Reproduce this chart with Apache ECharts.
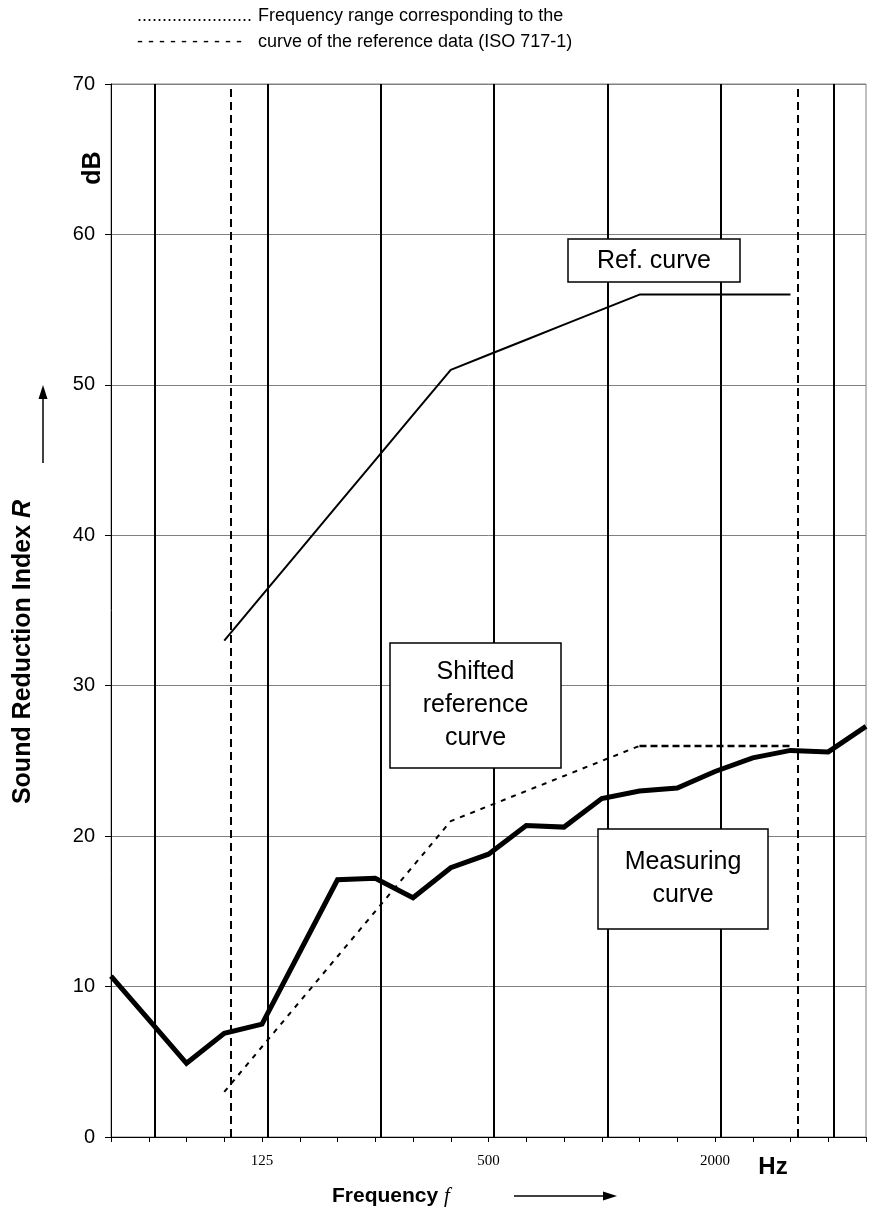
<!DOCTYPE html>
<html>
<head>
<meta charset="utf-8">
<script src="https://cdn.jsdelivr.net/npm/echarts@6/dist/echarts.min.js"></script>
<style>
html,body{margin:0;padding:0;background:#fff;}
#chart{width:871px;height:1227px;}
</style>
</head>
<body>
<div id="chart"></div>
<script>
// Third-octave band centre frequencies (category axis, drawn as index positions)
const categories = ['50','63','80','100','125','160','200','250','315','400','500','630','800','1000','1250','1600','2000','2500','3150','4000','5000'];
const tickLabels = ['125','500','2000'];
// Measuring curve (dB)
const measured = [10.7, 7.8, 4.9, 6.9, 7.5, 12.3, 17.1, 17.2, 15.9, 17.9, 18.8, 20.7, 20.6, 22.5, 23.0, 23.2, 24.3, 25.2, 25.7, 25.6, 27.3];
// Reference curve ISO 717-1 (100 Hz .. 3150 Hz)
const refCurve = [null, null, null, 33, 36, 39, 42, 45, 48, 51, 52, 53, 54, 55, 56, 56, 56, 56, 56, null, null];
// Shifted reference curve: sloped part and flat part
const shiftedSlope = [null, null, null, 3, 6, 9, 12, 15, 18, 21, 22, 23, 24, 25, 26, null, null, null, null, null, null];
const shiftedFlat  = [null, null, null, null, null, null, null, null, null, null, null, null, null, null, 26, 26, 26, 26, 26, null, null];
// Manually drawn vertical lines (octave bands solid, range limits dashed)
const octaveLines = ['63','125','250','500','1000','2000','4000'];
const rangeLines = ['100','3150'];
const yTicks = [0, 10, 20, 30, 40, 50, 60, 70];

const LINE_SHIFT = 0.15;
const RANGE_SHIFT = 0.18;
const toXY = arr => arr.map((v, i) => [i, v]);
const FONT = "'Liberation Sans', Arial, sans-serif";

const chart = echarts.init(document.getElementById('chart'), null, {renderer: 'canvas'});

const vLines = octaveLines.map(f => ({xAxis: categories.indexOf(f) + LINE_SHIFT, lineStyle: {type: 'solid', width: 2, color: '#000'}}))
  .concat(rangeLines.map(f => ({xAxis: categories.indexOf(f) + RANGE_SHIFT, lineStyle: {type: [8, 5], width: 2, color: '#000'}})));

const option = {
  animation: false,
  backgroundColor: '#fff',
  grid: {left: 111, top: 84, width: 755, height: 1053, show: true, borderColor: '#808080', borderWidth: 1, backgroundColor: 'transparent'},
  xAxis: {
    type: 'value', min: 0, max: categories.length - 1, interval: 1,
    axisLine: {show: true, lineStyle: {color: '#000', width: 1}},
    axisTick: {show: true, length: 5, lineStyle: {color: '#000', width: 1}},
    splitLine: {show: false},
    axisLabel: {
      margin: 17, color: '#000', fontFamily: "'Liberation Serif', 'Times New Roman', serif", fontSize: 15,
      formatter: v => tickLabels.includes(categories[v]) ? categories[v] : ''
    }
  },
  yAxis: {
    type: 'value', min: yTicks[0], max: yTicks[yTicks.length - 1], interval: 10,
    axisLine: {show: true, lineStyle: {color: '#000', width: 1}},
    axisTick: {show: true, length: 6, lineStyle: {color: '#000'}},
    splitLine: {show: true, lineStyle: {color: '#808080', width: 1}},
    axisLabel: {margin: 16, color: '#000', fontFamily: FONT, fontSize: 20}
  },
  series: [
    {
      type: 'line', name: 'Ref. curve', data: toXY(refCurve), symbol: 'none', connectNulls: false,
      lineStyle: {color: '#000', width: 2}, silent: true, z: 3,
      markLine: {silent: true, symbol: 'none', label: {show: false}, data: vLines, animation: false}
    },
    {
      type: 'line', name: 'Shifted slope', data: toXY(shiftedSlope), symbol: 'none',
      lineStyle: {color: '#000', width: 2, type: [5, 6]}, silent: true, z: 3
    },
    {
      type: 'line', name: 'Shifted flat', data: toXY(shiftedFlat), symbol: 'none',
      lineStyle: {color: '#000', width: 2.5, type: [7, 4]}, silent: true, z: 3
    },
    {
      type: 'line', name: 'Measuring curve', data: toXY(measured), symbol: 'none',
      lineStyle: {color: '#000', width: 5, join: 'miter'}, silent: true, z: 4
    }
  ],
  graphic: [
    // legend text at top
    {type: 'text', left: 137, top: 7, z: 100, style: {text: '.......................', font: `18px ${FONT}`, fill: '#000'}},
    {type: 'text', left: 258, top: 7, z: 100, style: {text: 'Frequency range corresponding to the', font: `18px ${FONT}`, fill: '#000'}},
    {type: 'text', left: 137, top: 33, z: 100, style: {text: '- - - - - - - - - -', font: `18px ${FONT}`, fill: '#000'}},
    {type: 'text', left: 258, top: 33, z: 100, style: {text: 'curve of the reference data (ISO 717-1)', font: `18px ${FONT}`, fill: '#000'}},
    // y axis labels
    {type: 'text', x: 93, y: 168, rotation: Math.PI / 2, z: 100,
      style: {text: 'dB', font: `bold 25px ${FONT}`, fill: '#000', align: 'center', verticalAlign: 'middle'}},
    {type: 'text', x: 23, y: 652, rotation: Math.PI / 2, z: 100,
      style: {text: '{b|Sound Reduction Index }{i|R}', align: 'center', verticalAlign: 'middle',
        rich: {b: {font: `bold 25px ${FONT}`, fill: '#000'}, i: {font: `italic bold 25px ${FONT}`, fill: '#000'}}}},
    {type: 'line', z: 100, shape: {x1: 43, y1: 463, x2: 43, y2: 398}, style: {stroke: '#000', lineWidth: 1.5}},
    {type: 'polygon', z: 100, shape: {points: [[43, 385], [38.5, 399], [47.5, 399]]}, style: {fill: '#000'}},
    // x axis labels
    {type: 'text', x: 773, y: 1167, z: 100,
      style: {text: 'Hz', font: `bold 24px ${FONT}`, fill: '#000', align: 'center', verticalAlign: 'middle'}},
    {type: 'text', x: 332, y: 1196, z: 100,
      style: {text: '{b|Frequency }{i|f}', align: 'left', verticalAlign: 'middle',
        rich: {b: {font: `bold 21px ${FONT}`, fill: '#000'}, i: {font: `italic 21px 'Liberation Serif', serif`, fill: '#000'}}}},
    {type: 'line', z: 100, shape: {x1: 514, y1: 1196, x2: 604, y2: 1196}, style: {stroke: '#000', lineWidth: 1.5}},
    {type: 'polygon', z: 100, shape: {points: [[617, 1196], [603, 1191.5], [603, 1200.5]]}, style: {fill: '#000'}},
    // annotation boxes
    {type: 'rect', z: 100, shape: {x: 568, y: 239, width: 172, height: 43}, style: {fill: '#fff', stroke: '#000', lineWidth: 1.5}},
    {type: 'text', x: 654, y: 261, z: 101,
      style: {text: 'Ref. curve', font: `25px ${FONT}`, fill: '#000', align: 'center', verticalAlign: 'middle'}},
    {type: 'rect', z: 100, shape: {x: 390, y: 643, width: 171, height: 125}, style: {fill: '#fff', stroke: '#000', lineWidth: 1.5}},
    {type: 'text', x: 475.5, y: 705.5, z: 101,
      style: {text: 'Shifted\nreference\ncurve', font: `25px ${FONT}`, lineHeight: 33, fill: '#000', align: 'center', verticalAlign: 'middle'}},
    {type: 'rect', z: 100, shape: {x: 598, y: 829, width: 170, height: 100}, style: {fill: '#fff', stroke: '#000', lineWidth: 1.5}},
    {type: 'text', x: 683, y: 879, z: 101,
      style: {text: 'Measuring\ncurve', font: `25px ${FONT}`, lineHeight: 33, fill: '#000', align: 'center', verticalAlign: 'middle'}}
  ]
};
chart.setOption(option);
</script>
</body>
</html>
